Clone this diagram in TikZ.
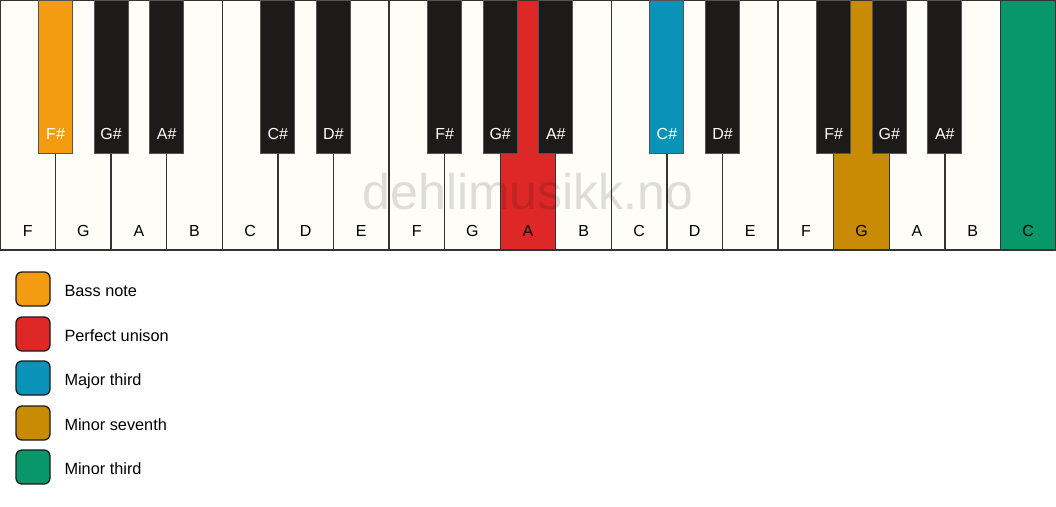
\documentclass[tikz,border=0pt]{standalone}
\usepackage{tikz}
\usepackage{fontspec}
\setmainfont{Liberation Sans}
\usetikzlibrary{calc}
\usepackage{xcolor}

\definecolor{keywhite}{HTML}{FFFDF8}
\definecolor{keyblack}{HTML}{1C1B1A}
\definecolor{keyedge}{HTML}{333333}
\definecolor{bassnote}{HTML}{F39C12}
\definecolor{unison}{HTML}{DE2828}
\definecolor{majthird}{HTML}{0993B8}
\definecolor{minseventh}{HTML}{C98A04}
\definecolor{minthird}{HTML}{079769}

\tikzset{
  whitekey/.style={fill=keywhite, draw=keyedge, line width=1.4pt},
  blackkey/.style={fill=keyblack, draw=keyblack!75!white, line width=1pt},
  wlabel/.style={anchor=base, text=black, font=\fontsize{16}{19}\selectfont},
  blabel/.style={anchor=base, text=white, font=\fontsize{16}{19}\selectfont},
  swatch/.style={draw=keyblack, line width=1.3pt, rounded corners=6pt},
  legendtext/.style={anchor=base west, font=\fontsize{16.3}{19}\selectfont}
}

\begin{document}
\begin{tikzpicture}[x=1pt,y=-1pt]

    \useasboundingbox[fill=white] (0,0) rectangle (1056,506);

    % White keys
    \filldraw[whitekey] (0,0) rectangle (55.58,250);          \node[wlabel] (kF1) at (27.79,236) {F};
    \filldraw[whitekey] (55.58,0) rectangle (111.16,250);     \node[wlabel] (kG1) at (83.37,236) {G};
    \filldraw[whitekey] (111.16,0) rectangle (166.74,250);    \node[wlabel] (kA1) at (138.95,236) {A};
    \filldraw[whitekey] (166.74,0) rectangle (222.32,250);    \node[wlabel] (kB1) at (194.53,236) {B};
    \filldraw[whitekey] (222.32,0) rectangle (277.89,250);    \node[wlabel] (kC1) at (250.11,236) {C};
    \filldraw[whitekey] (277.89,0) rectangle (333.47,250);    \node[wlabel] (kD1) at (305.68,236) {D};
    \filldraw[whitekey] (333.47,0) rectangle (389.05,250);    \node[wlabel] (kE1) at (361.26,236) {E};
    \filldraw[whitekey] (389.05,0) rectangle (444.63,250);    \node[wlabel] (kF2) at (416.84,236) {F};
    \filldraw[whitekey] (444.63,0) rectangle (500.21,250);    \node[wlabel] (kG2) at (472.42,236) {G};
    \filldraw[whitekey, fill=unison] (500.21,0) rectangle (555.79,250); \node[wlabel] (kA2) at (528.00,236) {A};
    \filldraw[whitekey] (555.79,0) rectangle (611.37,250);    \node[wlabel] (kB2) at (583.58,236) {B};
    \filldraw[whitekey] (611.37,0) rectangle (666.95,250);    \node[wlabel] (kC2) at (639.16,236) {C};
    \filldraw[whitekey] (666.95,0) rectangle (722.53,250);    \node[wlabel] (kD2) at (694.74,236) {D};
    \filldraw[whitekey] (722.53,0) rectangle (778.11,250);    \node[wlabel] (kE2) at (750.32,236) {E};
    \filldraw[whitekey] (778.11,0) rectangle (833.68,250);    \node[wlabel] (kF3) at (805.89,236) {F};
    \filldraw[whitekey, fill=minseventh] (833.68,0) rectangle (889.26,250); \node[wlabel] (kG3) at (861.47,236) {G};
    \filldraw[whitekey] (889.26,0) rectangle (944.84,250);    \node[wlabel] (kA3) at (917.05,236) {A};
    \filldraw[whitekey] (944.84,0) rectangle (1000.42,250);   \node[wlabel] (kB3) at (972.63,236) {B};
    \filldraw[whitekey, fill=minthird] (1000.42,0) rectangle (1056,250); \node[wlabel] (kC3) at (1028.21,236) {C};

    % Watermark
    \node[anchor=base, text=black, text opacity=0.13, font=\fontsize{50}{56}\selectfont] (mark) at (528,209) {dehlimusikk.no};

    % Black keys
    \filldraw[blackkey, fill=bassnote] (38.58,0) rectangle (72.58,153); \node[blabel] (kFs1) at (55.58,139) {F\#};
    \filldraw[blackkey] (94.16,0) rectangle (128.16,153);     \node[blabel] (kGs1) at (111.16,139) {G\#};
    \filldraw[blackkey] (149.74,0) rectangle (183.74,153);    \node[blabel] (kAs1) at (166.74,139) {A\#};
    \filldraw[blackkey] (260.89,0) rectangle (294.89,153);    \node[blabel] (kCs1) at (277.89,139) {C\#};
    \filldraw[blackkey] (316.47,0) rectangle (350.47,153);    \node[blabel] (kDs1) at (333.47,139) {D\#};
    \filldraw[blackkey] (427.63,0) rectangle (461.63,153);    \node[blabel] (kFs2) at (444.63,139) {F\#};
    \filldraw[blackkey] (483.21,0) rectangle (517.21,153);    \node[blabel] (kGs2) at (500.21,139) {G\#};
    \filldraw[blackkey] (538.79,0) rectangle (572.79,153);    \node[blabel] (kAs2) at (555.79,139) {A\#};
    \filldraw[blackkey, fill=majthird] (649.95,0) rectangle (683.95,153); \node[blabel] (kCs2) at (666.95,139) {C\#};
    \filldraw[blackkey] (705.53,0) rectangle (739.53,153);    \node[blabel] (kDs2) at (722.53,139) {D\#};
    \filldraw[blackkey] (816.68,0) rectangle (850.68,153);    \node[blabel] (kFs3) at (833.68,139) {F\#};
    \filldraw[blackkey] (872.26,0) rectangle (906.26,153);    \node[blabel] (kGs3) at (889.26,139) {G\#};
    \filldraw[blackkey] (927.84,0) rectangle (961.84,153);    \node[blabel] (kAs3) at (944.84,139) {A\#};

    % Legend
    \filldraw[swatch, fill=bassnote] (16,272) rectangle (50,306);    \node[legendtext] (lbass) at (61,296) {Bass note};
    \filldraw[swatch, fill=unison] (16,317) rectangle (50,351);      \node[legendtext] (lunison) at (61,341) {Perfect unison};
    \filldraw[swatch, fill=majthird] (16,361) rectangle (50,395);    \node[legendtext] (lmajthird) at (61,385) {Major third};
    \filldraw[swatch, fill=minseventh] (16,406) rectangle (50,440);  \node[legendtext] (lminseventh) at (61,430) {Minor seventh};
    \filldraw[swatch, fill=minthird] (16,450) rectangle (50,484);    \node[legendtext] (lminthird) at (61,474) {Minor third};

\end{tikzpicture}
\end{document}
